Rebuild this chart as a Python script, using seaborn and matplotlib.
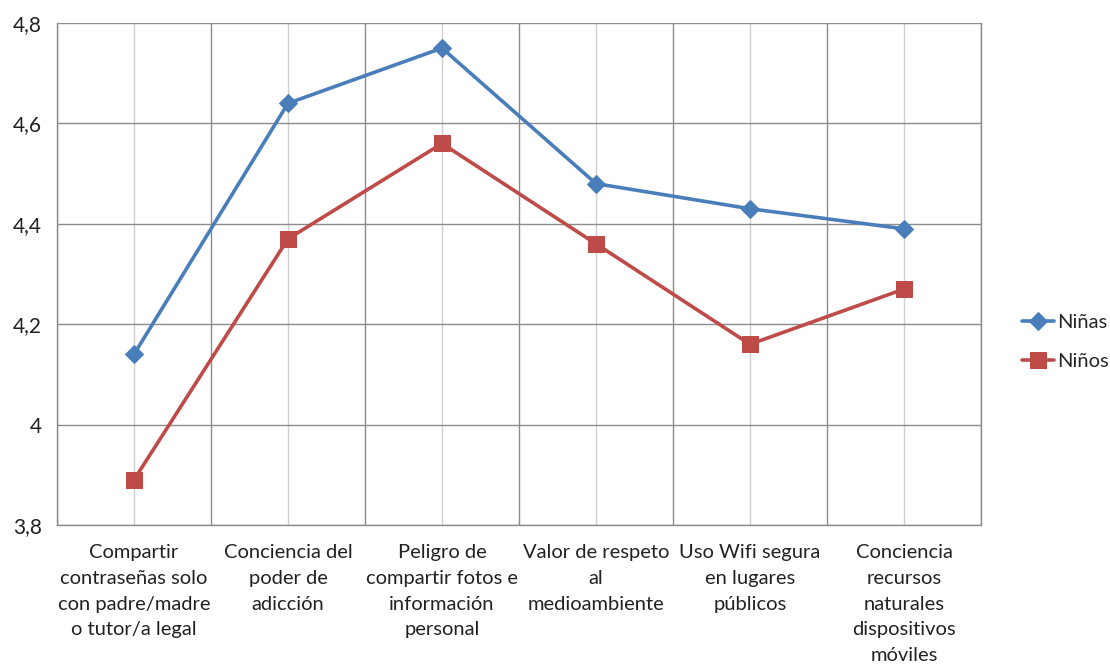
import matplotlib
matplotlib.use("Agg")
import matplotlib.pyplot as plt
import seaborn as sns
import pandas as pd
import numpy as np
from matplotlib.ticker import FixedLocator

categories = [
    "Compartir\ncontraseñas solo\ncon padre/madre\no tutor/a legal",
    "Conciencia del\npoder de\nadicción",
    "Peligro de\ncompartir fotos e\ninformación\npersonal",
    "Valor de respeto\nal\nmedioambiente",
    "Uso Wifi segura\nen lugares\npúblicos",
    "Conciencia\nrecursos\nnaturales\ndispositivos\nmóviles",
]
ninas = [4.14, 4.64, 4.75, 4.48, 4.43, 4.39]
ninos = [3.89, 4.37, 4.56, 4.36, 4.16, 4.27]
series_names = ["Niñas", "Niños"]
y_ticks = [3.8, 4.0, 4.2, 4.4, 4.6, 4.8]
y_labels = ["3,8", "4", "4,2", "4,4", "4,6", "4,8"]

sns.set_theme(style="white")
plt.rcParams["font.family"] = ["Lato", "DejaVu Sans"]

df = pd.DataFrame({
    "pos": list(range(len(categories))) * 2,
    "valor": ninas + ninos,
    "serie": [series_names[0]] * len(categories) + [series_names[1]] * len(categories),
})

fig = plt.figure(figsize=(11.1, 6.66), dpi=100)
ax = fig.add_axes([57 / 1110, 1 - 525 / 666, (981 - 57) / 1110, (525 - 23) / 666])

palette = {"Niñas": "#4a7ebb", "Niños": "#be4b48"}
markers = {"Niñas": "D", "Niños": "s"}
for name in series_names:
    sub = df[df["serie"] == name]
    sns.lineplot(data=sub, x="pos", y="valor", ax=ax, color=palette[name],
                 marker=markers[name], markersize=9 if name == "Niñas" else 11,
                 markeredgecolor=palette[name], linewidth=2.6, label=name, sort=False)

n = len(categories)
ax.set_xlim(-0.5, n - 0.5)
ax.set_ylim(3.8, 4.8)
ax.set_yticks(y_ticks)
ax.set_yticklabels(y_labels, fontsize=15, color="#222222")
ax.xaxis.set_major_locator(FixedLocator(np.arange(-0.5, n, 1.0)))
ax.set_xticklabels([""] * (n + 1))
ax.set_xticks(range(n), minor=True)
ax.set_xticklabels(categories, minor=True, fontsize=14.5, color="#222222",
                   ha="center", va="top", linespacing=1.62)
ax.tick_params(axis="x", which="major", length=6, color="#888888", direction="out")
ax.tick_params(axis="x", which="minor", length=0, pad=14)
ax.tick_params(axis="y", which="major", length=6, color="#888888", direction="out", pad=5)

ax.grid(True, which="major", axis="both", color="#8c8c8c", linewidth=1.0)
ax.grid(True, which="minor", axis="x", color="#d0d0d0", linewidth=1.0)
ax.set_axisbelow(True)
ax.spines["top"].set_visible(False)
for s in ["left", "bottom", "right"]:
    ax.spines[s].set_color("#8c8c8c")
    ax.spines[s].set_linewidth(1.0)
ax.set_xlabel("")
ax.set_ylabel("")

leg = ax.legend(loc="center left", bbox_to_anchor=(1.025, 0.365), frameon=False,
                fontsize=14.5, handlelength=1.6, handletextpad=0.15, labelspacing=1.1)

fig.savefig("out.png", dpi=100)
